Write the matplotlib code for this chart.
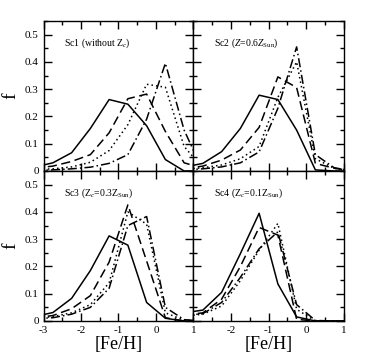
import matplotlib
matplotlib.use("Agg")
import matplotlib.pyplot as plt
from matplotlib.ticker import MultipleLocator

plt.rcParams['font.family'] = ['Liberation Serif', 'DejaVu Serif']
plt.rcParams['mathtext.fontset'] = 'custom'
plt.rcParams['mathtext.rm'] = 'Liberation Serif'
plt.rcParams['mathtext.it'] = 'Liberation Serif:italic'
plt.rcParams['axes.unicode_minus'] = False

feh = [-3.25, -2.75, -2.25, -1.75, -1.25, -0.75, -0.25, 0.25, 0.75, 1.25]

# Sc1 (without Zc)
sc1_solid   = [0.014, 0.030, 0.067, 0.156, 0.262, 0.245, 0.166, 0.042, 0.0, 0.0]
sc1_dashed  = [0.010, 0.018, 0.035, 0.060, 0.140, 0.265, 0.282, 0.145, 0.030, 0.010]
sc1_dotted  = [0.005, 0.008, 0.015, 0.032, 0.075, 0.170, 0.318, 0.307, 0.090, 0.010]
sc1_dashdot = [0.002, 0.004, 0.008, 0.014, 0.028, 0.060, 0.190, 0.395, 0.150, 0.0]

# Sc2 (Z=0.6 Zsun)
sc2_solid   = [0.014, 0.028, 0.071, 0.156, 0.278, 0.262, 0.150, 0.004, 0.0, 0.0]
sc2_dashed  = [0.008, 0.018, 0.040, 0.077, 0.160, 0.345, 0.306, 0.028, 0.010, 0.0]
sc2_dotted  = [0.006, 0.012, 0.022, 0.045, 0.090, 0.270, 0.400, 0.045, 0.010, 0.0]
sc2_dashdot = [0.004, 0.008, 0.015, 0.030, 0.070, 0.230, 0.455, 0.060, 0.012, 0.0]

# Sc3 (Zc=0.3 Zsun)
sc3_solid   = [0.016, 0.031, 0.083, 0.185, 0.312, 0.278, 0.068, 0.010, 0.0, 0.0]
sc3_dashed  = [0.012, 0.020, 0.045, 0.093, 0.216, 0.426, 0.220, 0.012, 0.0, 0.0]
sc3_dotted  = [0.010, 0.016, 0.030, 0.060, 0.140, 0.400, 0.355, 0.030, 0.003, 0.0]
sc3_dashdot = [0.008, 0.012, 0.025, 0.050, 0.120, 0.350, 0.383, 0.050, 0.005, 0.0]

# Sc4 (Zc=0.1 Zsun)
sc4_solid   = [0.030, 0.040, 0.105, 0.247, 0.395, 0.136, 0.015, 0.0, 0.0, 0.0]
sc4_dashed  = [0.022, 0.030, 0.080, 0.200, 0.343, 0.315, 0.006, 0.0, 0.0, 0.0]
sc4_dotted  = [0.018, 0.025, 0.055, 0.148, 0.260, 0.358, 0.043, 0.0, 0.0, 0.0]
sc4_dashdot = [0.020, 0.027, 0.068, 0.160, 0.265, 0.327, 0.060, 0.002, 0.0, 0.0]

labels = [r"Sc1 (without Z$_c$)", r"Sc2 ($Z$=0.6$Z$$_{\rm Sun}$)",
          r"Sc3 (Z$_c$=0.3Z$_{\rm Sun}$)", r"Sc4 (Z$_c$=0.1Z$_{\rm Sun}$)"]
panels = [
    (sc1_solid, sc1_dashed, sc1_dotted, sc1_dashdot),
    (sc2_solid, sc2_dashed, sc2_dotted, sc2_dashdot),
    (sc3_solid, sc3_dashed, sc3_dotted, sc3_dashdot),
    (sc4_solid, sc4_dashed, sc4_dotted, sc4_dashdot),
]
styles = ['-', (0, (6, 3)), (0, (1, 2)), (0, (6, 2, 1, 2))]

fig = plt.figure(figsize=(3.74, 3.63), dpi=100)
W, H = 374, 363
x0, xm = 43.5, 193.5
pw, ph = 150, 150
tops = [21, 171]
positions = [
    (x0, tops[0]), (xm, tops[0]),
    (x0, tops[1]), (xm, tops[1]),
]

for i, ((px, py), series, lab) in enumerate(zip(positions, panels, labels)):
    ax = fig.add_axes([px / W, (H - py - ph) / H, pw / W, ph / H])
    for ys, ls in zip(series, styles):
        ax.plot(feh, ys, color='black', lw=1.1, linestyle=ls)
    ax.set_xlim(-3, 1)
    ax.set_ylim(0, 0.55)
    ax.xaxis.set_major_locator(MultipleLocator(1))
    ax.xaxis.set_minor_locator(MultipleLocator(0.5))
    ax.yaxis.set_major_locator(MultipleLocator(0.1))
    ax.yaxis.set_minor_locator(MultipleLocator(0.05))
    ax.tick_params(which='both', direction='in', top=True, right=True, labelsize=8)
    ax.tick_params(which='major', length=6, width=1)
    ax.tick_params(which='minor', length=3, width=1)
    for s in ax.spines.values():
        s.set_linewidth(1)
    ax.text(0.14, 0.85, lab, transform=ax.transAxes, fontsize=7, va='center', ha='left')
    if i < 2:
        ax.tick_params(labelbottom=False)
    else:
        ax.set_xlabel('[Fe/H]', fontsize=13, labelpad=1)
        if i == 3:
            ax.set_xticks([-2, -1, 0, 1])
    if i % 2 == 1:
        ax.tick_params(labelleft=False)
    else:
        ax.set_ylabel('f', fontsize=14, labelpad=4)
        ax.set_yticks([0, 0.1, 0.2, 0.3, 0.4, 0.5])
        ax.set_yticklabels(['0', '0.1', '0.2', '0.3', '0.4', '0.5'])

fig.savefig('out.png', dpi=100)
